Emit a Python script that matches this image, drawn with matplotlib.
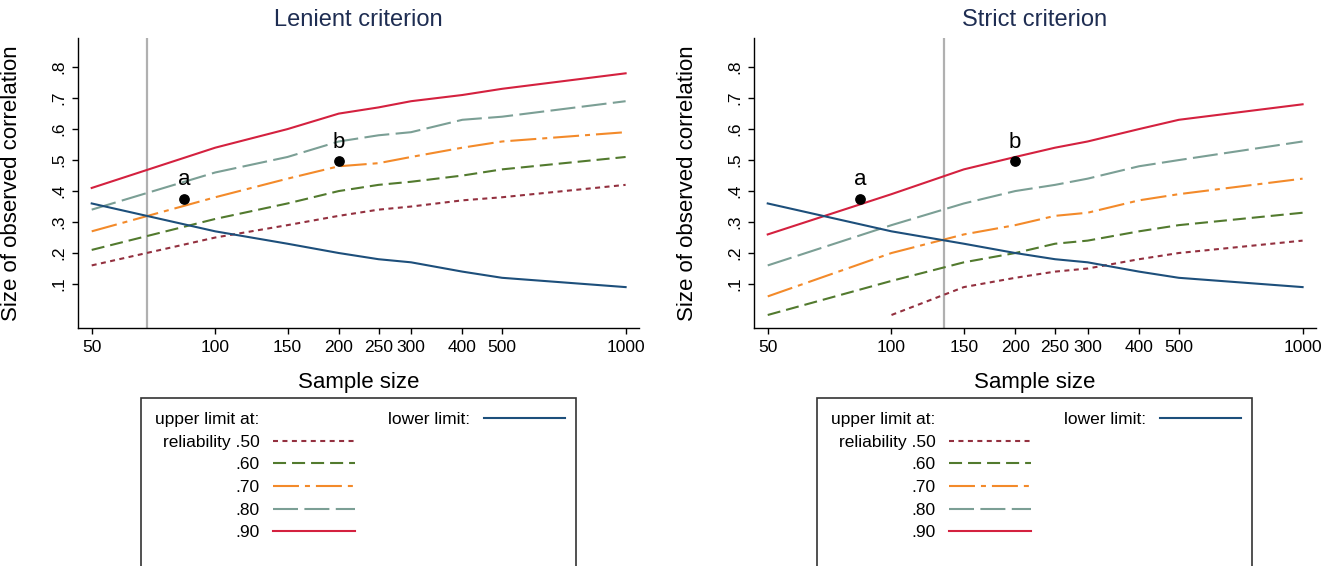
import numpy as np
import matplotlib
matplotlib.use('Agg')
import matplotlib.pyplot as plt
from matplotlib.lines import Line2D
from matplotlib.patches import Rectangle
from matplotlib.ticker import NullLocator

plt.rcParams['font.family'] = ['Liberation Sans', 'DejaVu Sans']
plt.rcParams['lines.scale_dashes'] = False

# sample sizes on the x axis
N = [50, 100, 150, 200, 250, 300, 400, 500, 1000]
X_TICKS = [50, 100, 150, 200, 250, 300, 400, 500, 1000]
Y_TICKS = [0.1, 0.2, 0.3, 0.4, 0.5, 0.6, 0.7, 0.8]
Y_TICK_LABELS = ['.1', '.2', '.3', '.4', '.5', '.6', '.7', '.8']

# lower limit (same in both panels)
lower = [.36, .27, .23, .20, .18, .17, .14, .12, .09]

# lenient criterion, upper limits by reliability
len_50 = [.16, .25, .29, .32, .34, .35, .37, .38, .42]
len_60 = [.21, .31, .36, .40, .42, .43, .45, .47, .51]
len_70 = [.27, .38, .44, .48, .49, .51, .54, .56, .59]
len_80 = [.34, .46, .51, .56, .58, .59, .63, .64, .69]
len_90 = [.41, .54, .60, .65, .67, .69, .71, .73, .78]

# strict criterion
str_50 = [np.nan, .00, .09, .12, .14, .15, .18, .20, .24]
str_60 = [.00, .11, .17, .20, .23, .24, .27, .29, .33]
str_70 = [.06, .20, .26, .29, .32, .33, .37, .39, .44]
str_80 = [.16, .29, .36, .40, .42, .44, .48, .50, .56]
str_90 = [.26, .39, .47, .51, .54, .56, .60, .63, .68]

# reference line and example points
vline_x = {'lenient': 68, 'strict': 134}
pt_labels = ['a', 'b']
pt_x = [84, 200]
pt_y = [.375, .496]

TITLES = ['Lenient criterion', 'Strict criterion']
REL_LABELS = ['reliability .50', '.60', '.70', '.80', '.90']

STYLES = [
    dict(color='#93303f', ls=(0, (3.6, 3.2))),
    dict(color='#527a2e', ls=(0, (9.4, 4.3))),
    dict(color='#f38a2a', ls=(0, (18.7, 4.3, 3.6, 4.3))),
    dict(color='#7b9f95', ls=(0, (18.0, 4.6))),
    dict(color='#d4213f', ls='-'),
]
LOWER_COLOR = '#1d4f7b'
TITLE_COLOR = '#1e2d52'

W, H = 1332, 566
fig = plt.figure(figsize=(W / 100, H / 100), dpi=100)

panels = [
    ('lenient', [len_50, len_60, len_70, len_80, len_90], 78, 639, 141),
    ('strict', [str_50, str_60, str_70, str_80, str_90], 754, 1316, 817),
]

for i, (key, series, x0, x1, box_x) in enumerate(panels):
    ax = fig.add_axes([x0 / W, 1 - 328 / H, (x1 - x0) / W, 290 / H])
    ax.axvline(vline_x[key], color='#b0b0b0', lw=1.6, zorder=1)

    handles = []
    for s, st in zip(series, STYLES):
        h, = ax.plot(N, s, color=st['color'], ls=st['ls'], lw=1.5, zorder=2)
        handles.append(h)
    hl, = ax.plot(N, lower, color=LOWER_COLOR, lw=1.5, zorder=2)

    ax.scatter(pt_x, pt_y, s=45, color='black', zorder=4)
    for lab, px, py in zip(pt_labels, pt_x, pt_y):
        ax.text(px, py + 0.062, lab, ha='center', va='center', fontsize=16)

    ax.set_xscale('log')
    ax.set_xlim(46.3, 1078)
    ax.set_ylim(-0.042, 0.894)
    ax.set_xticks(X_TICKS)
    ax.set_xticklabels([str(t) for t in X_TICKS])
    ax.xaxis.set_minor_locator(NullLocator())
    ax.set_yticks(Y_TICKS)
    ax.set_yticklabels(Y_TICK_LABELS, rotation=90, va='center')
    ax.tick_params(axis='both', labelsize=12.5, length=4, width=1, pad=4.5)

    for side in ['top', 'right']:
        ax.spines[side].set_visible(False)
    for side in ['left', 'bottom']:
        ax.spines[side].set_linewidth(1)

    ax.set_xlabel('Sample size', fontsize=16)
    ax.xaxis.set_label_coords(0.5, -0.152)
    ax.set_ylabel('Size of observed correlation', fontsize=16)
    ax.yaxis.set_label_coords(-0.1, 0.5)
    ax.set_title(TITLES[i], fontsize=17, color=TITLE_COLOR, y=1.04, pad=0)

    # legend box
    fig.patches.append(Rectangle((box_x / W, -0.05), 435 / W, 0.05 + 1 - 398 / H,
                                 transform=fig.transFigure, fill=False,
                                 edgecolor='#333333', lw=1.2))
    blank = Line2D([], [], ls='none')
    leg_handles = [blank] + handles + [hl] + [blank] * 5
    leg_labels = ['upper limit at:'] + REL_LABELS + ['lower limit:'] + [''] * 5
    fig.legend(leg_handles, leg_labels, loc='upper left',
               bbox_to_anchor=((box_x + 14) / W, 1 - 412 / H),
               ncol=2, frameon=False, markerfirst=False, fontsize=12.5,
               handlelength=4.7, handletextpad=0.8, columnspacing=1.9,
               labelspacing=0.43, borderpad=0, borderaxespad=0)

fig.savefig('out.png', dpi=100)
